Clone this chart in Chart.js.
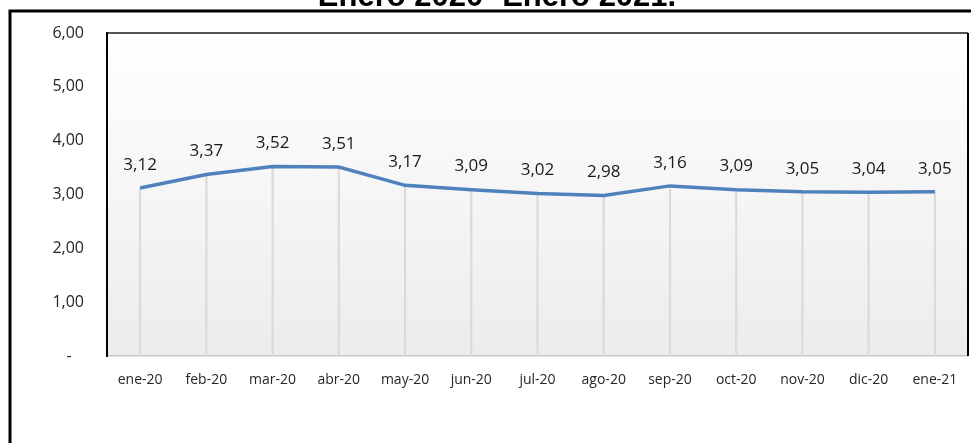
<!DOCTYPE html>
<html lang="es">
<head>
    <meta charset="UTF-8">
    <title>Enero 2020- Enero 2021.</title>
    <script src="https://cdn.jsdelivr.net/npm/chart.js"></script>
    <style>
        html, body { margin: 0; padding: 0; background: #fff; }
        #wrap { position: relative; width: 971px; height: 443px; overflow: hidden; }
    </style>
</head>
<body>
<div id="wrap"><canvas id="lineChart" width="971" height="443"></canvas></div>
<script>
    // datos
    var titulo = 'Enero 2020- Enero 2021.';
    var meses = ['ene-20', 'feb-20', 'mar-20', 'abr-20', 'may-20', 'jun-20', 'jul-20',
                 'ago-20', 'sep-20', 'oct-20', 'nov-20', 'dic-20', 'ene-21'];
    var valores = [3.12, 3.37, 3.52, 3.51, 3.17, 3.09, 3.02, 2.98, 3.16, 3.09, 3.05, 3.04, 3.05];
    var etiquetasY = ['-   ', '1,00', '2,00', '3,00', '4,00', '5,00', '6,00'];

    function coma(v) { return v.toFixed(2).replace('.', ','); }

    var fuente = "'Open Sans', sans-serif";

    // fondo degradado, marco exterior y titulo
    var fondo = {
        id: 'fondo',
        beforeDraw: function (chart) {
            var ctx = chart.ctx, a = chart.chartArea;
            ctx.save();
            var g = ctx.createLinearGradient(0, a.top, 0, a.bottom);
            g.addColorStop(0, '#ffffff');
            g.addColorStop(1, '#ececec');
            ctx.fillStyle = g;
            ctx.fillRect(a.left, a.top, a.right - a.left, a.bottom - a.top);
            // marco exterior
            ctx.strokeStyle = '#000';
            ctx.lineWidth = 3;
            ctx.beginPath();
            ctx.moveTo(10, 450);
            ctx.lineTo(10, 11);
            ctx.lineTo(980, 11);
            ctx.stroke();
            // titulo (cortado arriba)
            ctx.fillStyle = '#000';
            ctx.font = "bold 31px 'Liberation Sans', Arial, sans-serif";
            ctx.textAlign = 'center';
            ctx.textBaseline = 'alphabetic';
            ctx.fillText(titulo, 497, 6);
            ctx.restore();
        },
        afterDraw: function (chart) {
            var ctx = chart.ctx, a = chart.chartArea;
            ctx.save();
            ctx.strokeStyle = '#1a1a1a';
            ctx.lineWidth = 1.5;
            ctx.beginPath();
            ctx.moveTo(a.left, a.top);
            ctx.lineTo(a.right, a.top);
            ctx.stroke();
            ctx.strokeStyle = '#000';
            ctx.lineWidth = 2;
            ctx.beginPath();
            ctx.moveTo(a.right, a.top);
            ctx.lineTo(a.right, a.bottom);
            ctx.stroke();
            ctx.restore();
        }
    };

    // etiquetas de datos sobre la linea
    var etiquetas = {
        id: 'etiquetas',
        afterDatasetsDraw: function (chart) {
            var ctx = chart.ctx;
            var meta = chart.getDatasetMeta(1);
            ctx.save();
            ctx.fillStyle = '#1a1a1a';
            ctx.font = '17px ' + fuente;
            ctx.textAlign = 'center';
            ctx.textBaseline = 'middle';
            meta.data.forEach(function (p, i) {
                ctx.fillText(coma(valores[i]), p.x, p.y - 23);
            });
            ctx.restore();
        }
    };

    var ctxLine = document.getElementById('lineChart').getContext('2d');
    new Chart(ctxLine, {
        data: {
            labels: meses,
            datasets: [{
                type: 'bar', // lineas verticales hasta el eje
                data: valores,
                backgroundColor: '#dadada',
                barThickness: 1.5,
                order: 2
            }, {
                type: 'line',
                data: valores,
                borderColor: '#4f81bd',
                borderWidth: 3.5,
                pointRadius: 0,
                tension: 0,
                order: 1
            }]
        },
        options: {
            responsive: false,
            animation: false,
            layout: { padding: { top: 33, right: 3, bottom: 0, left: 0 } },
            plugins: { legend: { display: false }, tooltip: { enabled: false } },
            scales: {
                x: {
                    grid: { display: false },
                    border: { color: '#c8c8c8', width: 1.5 },
                    ticks: { color: '#262626', font: { family: fuente, size: 14 }, padding: 8, maxRotation: 0 },
                    afterFit: function (s) { s.height = 87; }
                },
                y: {
                    min: 0, max: 6,
                    grid: { display: false, drawTicks: false },
                    border: { color: '#000', width: 2 },
                    ticks: {
                        stepSize: 1, padding: 23, color: '#262626',
                        font: { family: fuente, size: 16 },
                        callback: function (v) { return etiquetasY[v]; }
                    },
                    afterFit: function (s) { s.width = 107; }
                }
            }
        },
        plugins: [fondo, etiquetas]
    });
</script>
</body>
</html>
